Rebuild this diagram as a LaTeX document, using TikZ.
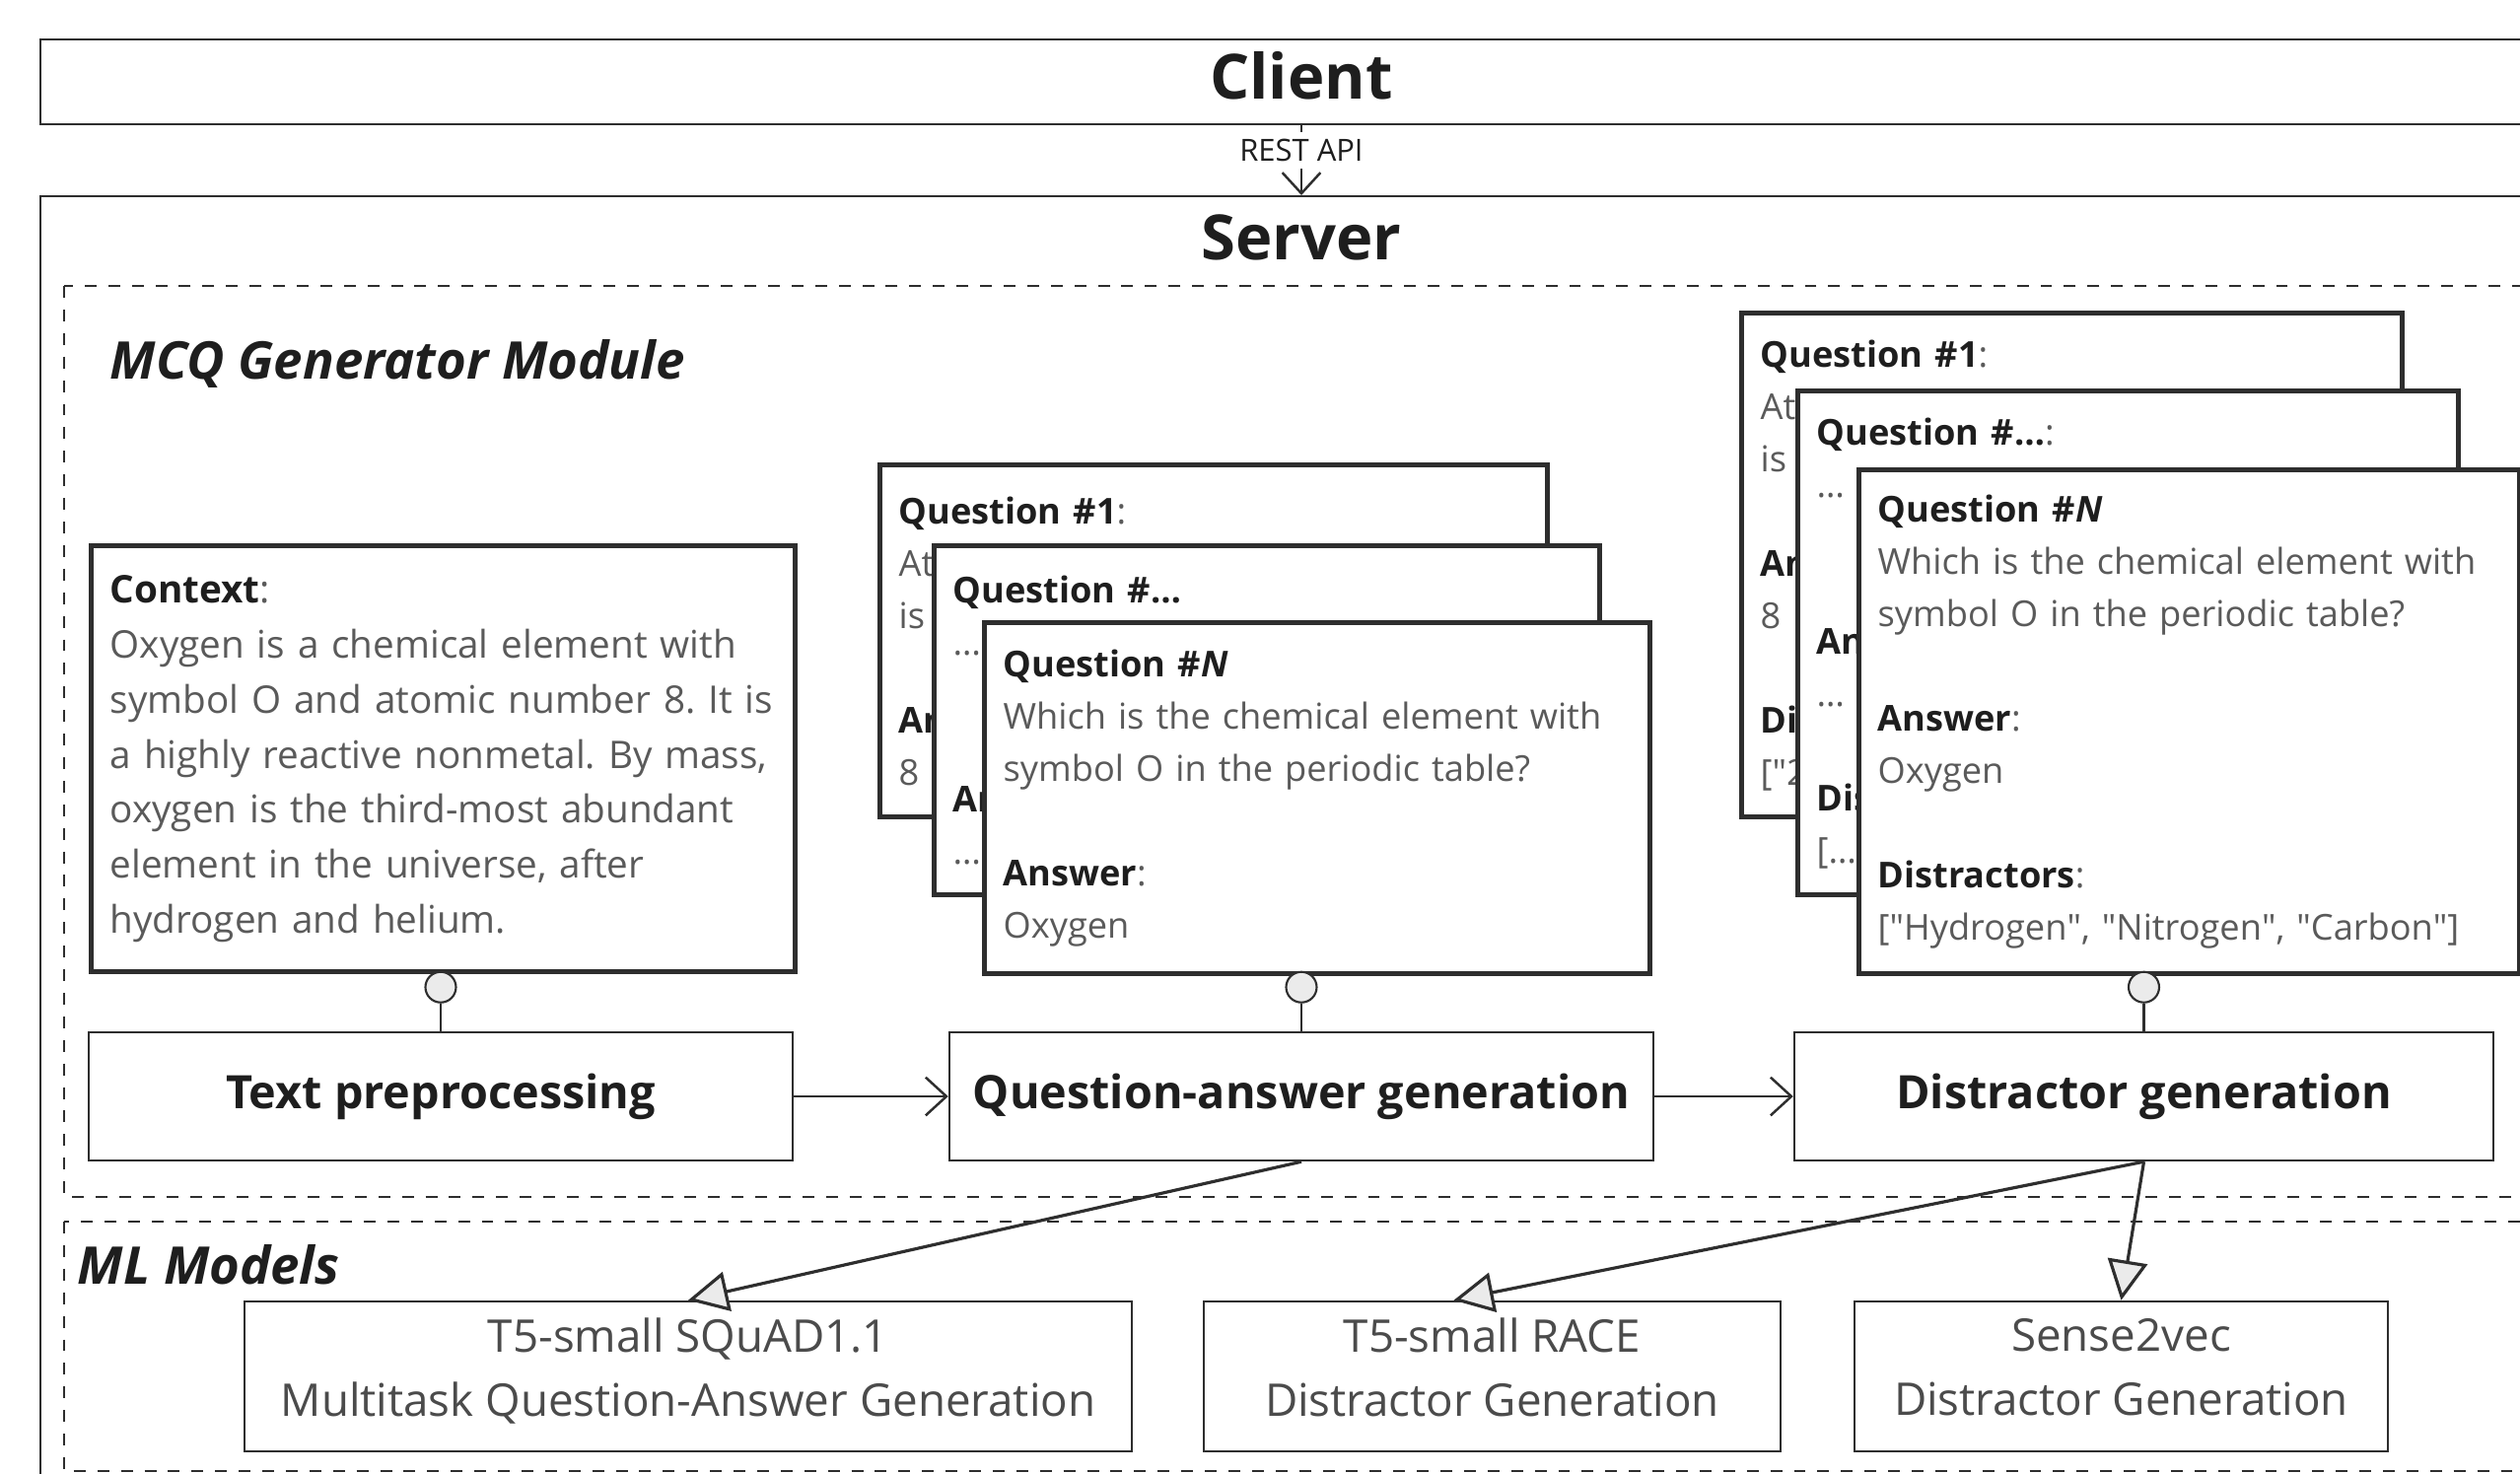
\documentclass[tikz,border=0pt]{standalone}
\usepackage{fontspec}
\setmainfont{Open Sans}
\usetikzlibrary{arrows.meta}
\usetikzlibrary{positioning}

\definecolor{ink}{HTML}{1E1E1E}
\definecolor{body}{HTML}{5A5A5A}
\definecolor{edge}{HTML}{2E2E2E}
\definecolor{bulb}{HTML}{EBEBEB}

\newcommand{\hd}[1]{\textbf{\color{ink}#1}}
\newcommand{\skipline}{\\[\baselineskip]}
\newcommand{\qt}{\textquotedbl}
\frenchspacing

\tikzset{frame/.style={draw=edge,line width=0.7pt,fill=white},
         group/.style={draw=edge,line width=0.6pt,dash pattern=on 3.4pt off 3.4pt},
         title/.style={font=\fontsize{18}{20}\selectfont\bfseries,text=ink},
         heading/.style={font=\fontsize{15}{17}\selectfont\bfseries\itshape,text=ink,anchor=west,inner sep=0pt},
         card/.style={draw=edge,line width=1.5pt,fill=white,anchor=north west,
                      inner xsep=0.19cm,inner ysep=0.05cm,align=left,text=body,
                      font=\fontsize{10.3}{15.08}\selectfont},
         stage/.style={draw=edge,line width=0.7pt,fill=white,minimum width=7.14cm,minimum height=1.30cm,
                       font=\fontsize{13.3}{15}\selectfont\bfseries,text=ink},
         model/.style={draw=edge,line width=0.7pt,fill=white,minimum height=1.52cm,align=center,
                       text=ink!80,font=\fontsize{13}{18.5}\selectfont,execute at end node=\strut},
         bulb/.style={circle,draw=edge,fill=bulb,line width=0.6pt,minimum size=0.31cm,inner sep=0pt},
         barb/.style={draw=edge,line width=0.7pt,-{Straight Barb[length=6pt,width=11pt]}},
         uses/.style={draw=edge,line width=0.9pt,-{Triangle[fill=bulb,length=11.5pt,width=11.5pt]}},
}

\begin{document}
\begin{tikzpicture}[y=-1cm]
    \useasboundingbox (0,0) rectangle (25.56,14.94);
    \clip (0,0) rectangle (25.56,14.94);
    \fill[white] (0,0) rectangle (25.56,14.94);

    % client and server frames
    \node[frame,minimum width=25.58cm,minimum height=0.86cm] (client) at (13.20,0.83) {};
    \node[title] (clienttitle) at (13.20,0.77) {Client};
    \node[frame,anchor=north,minimum width=25.58cm,minimum height=14cm] (server) at (13.20,1.98) {};
    \node[title] (servertitle) at (13.20,2.41) {Server};
    \draw[barb] (client) -- node[pos=0.36,fill=white,inner sep=2pt,text=ink,
        font=\fontsize{8.8}{10}\selectfont] {REST API} (server);

    % module groups
    \draw[group] (0.65,2.90) rectangle (25.75,12.14);
    \draw[group] (0.65,12.39) rectangle (25.75,14.92);
    \node[heading] (mcq) at (1.11,3.69) {MCQ Generator Module};
    \node[heading] (ml) at (0.78,12.83) {ML Models};

    % input text
    \node[card,text width=6.76cm,minimum height=4.32cm,font=\fontsize{11}{15.9}\selectfont] (context) at (0.90,5.51)
        {\hd{Context}:\\
         Oxygen is a chemical element with\\
         symbol O and atomic number 8. It is\\
         a highly reactive nonmetal. By mass,\\
         oxygen is the third-most abundant\\
         element in the universe, after\\
         hydrogen and helium.};

    % generated questions
    \node[card,text width=6.39cm,minimum height=3.57cm] (qa1) at (8.90,4.69)
        {\hd{Question \#1}:\\ At\\ is\skipline \hd{Answer}:\\ 8};
    \node[card,text width=6.37cm,minimum height=3.54cm] (qa2) at ([shift={(0.55,0.82)}]qa1.north west)
        {\hd{Question \#\ldots}\\ \ldots\\[2\baselineskip] \hd{Answer}:\\ \ldots};
    \node[card,text width=6.37cm,minimum height=3.56cm] (qa3) at ([shift={(0.51,0.78)}]qa2.north west)
        {\hd{Question \#\textit{N}}\\ Which is the chemical element with\\
         symbol O in the periodic table?\skipline \hd{Answer}:\\ Oxygen};

    % questions with distractors
    \node[card,text width=6.32cm,minimum height=5.11cm] (dg1) at (17.64,3.15)
        {\hd{Question \#1}:\\ At\\ is\skipline \hd{Answer}:\\ 8\skipline \hd{Distractors}:\\ {[}\qt2};
    \node[card,text width=6.32cm,minimum height=5.11cm] (dg2) at ([shift={(0.57,0.79)}]dg1.north west)
        {\hd{Question \#\ldots}:\\ \ldots\\[2\baselineskip] \hd{Answer}:\\ \ldots\skipline
         \hd{Distractors}:\\ {[}\ldots};
    \node[card,text width=6.32cm,minimum height=5.11cm] (dg3) at ([shift={(0.62,0.80)}]dg2.north west)
        {\hd{Question \#\textit{N}}\\ Which is the chemical element with\\
         symbol O in the periodic table?\skipline \hd{Answer}:\\ Oxygen\skipline
         \hd{Distractors}:\\ {[}\qt Hydrogen\qt, \qt Nitrogen\qt, \qt Carbon\qt]};

    % pipeline
    \node[stage] (tp) at (4.47,11.12) {Text preprocessing};
    \node[stage] (qa) at (13.20,11.12) {Question-answer generation};
    \node[stage,minimum width=7.09cm] (dg) at (21.745,11.12) {Distractor generation};

    \node[bulb,above=0.28cm of tp] (tpb) {};
    \node[bulb,above=0.28cm of qa] (qab) {};
    \node[bulb,above=0.28cm of dg] (dgb) {};
    \draw[draw=edge,line width=0.6pt] (tpb) -- (tp) (qab) -- (qa) (dgb) -- (dg);

    \draw[barb] (tp) -- (qa);
    \draw[barb] (qa) -- (dg);

    % models
    \node[model,minimum width=9.00cm] (squad) at (6.98,13.96) {T5-small SQuAD1.1\\Multitask Question-Answer Generation};
    \node[model,minimum width=5.85cm] (race) at (15.135,13.96) {T5-small RACE\\Distractor Generation};
    \node[model,minimum width=5.41cm] (s2v) at (21.515,13.96) {Sense2vec\\Distractor Generation};

    \draw[uses] (qa.south) -- (squad.north);
    \draw[uses] (dg.south) -- ([xshift=-3.9mm]race.north);
    \draw[uses] (dg.south) -- (s2v.north);
\end{tikzpicture}
\end{document}
